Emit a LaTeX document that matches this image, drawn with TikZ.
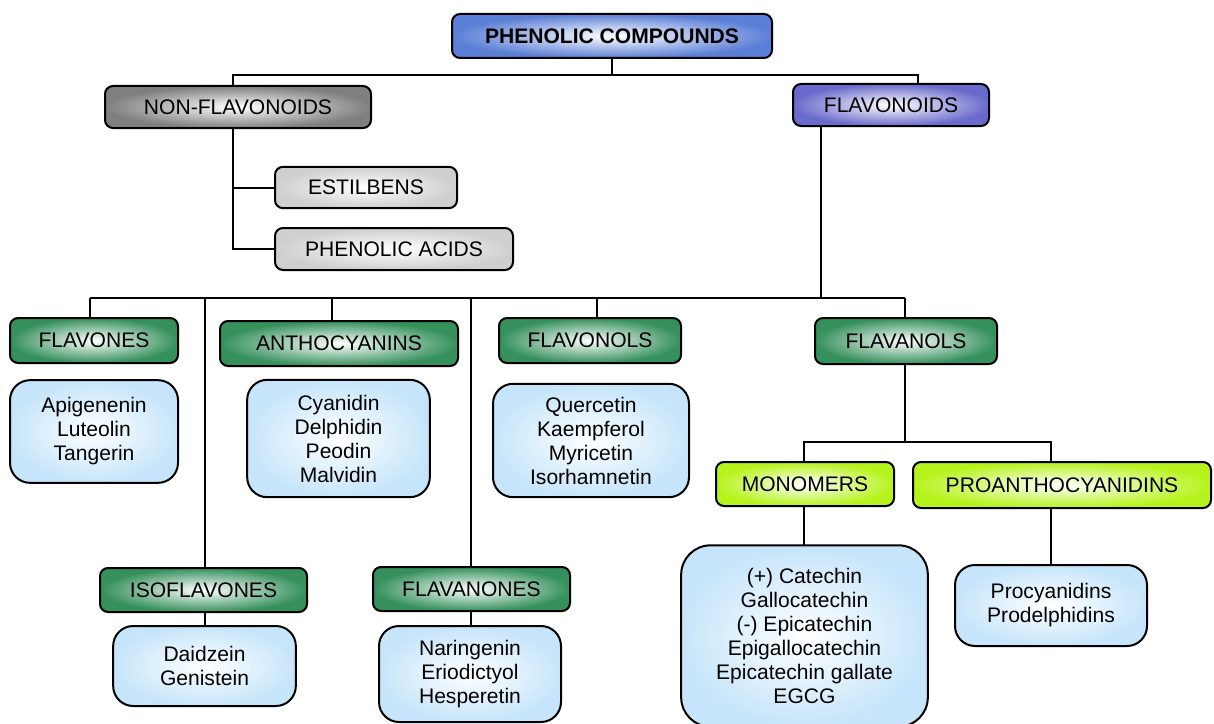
\documentclass[tikz,border=0pt]{standalone}
\usepackage{fontspec}
\setmainfont{Liberation Sans}
\definecolor{topblue}{HTML}{5B7FD6}
\definecolor{nfgray}{HTML}{7F7F7F}
\definecolor{lgray}{HTML}{CFCFCF}
\definecolor{flvblue}{HTML}{6A6ACC}
\definecolor{grn}{HTML}{35905C}
\definecolor{ygrn}{HTML}{B6F31C}
\definecolor{lblue}{HTML}{C6E5FA}
\begin{document}
\begin{tikzpicture}[x=0.75pt,y=-0.75pt,
  every node/.style={font=\fontsize{15.8}{18}\selectfont, text=black, inner sep=0pt, outer sep=0pt},
  hdr/.style={draw=black, line width=1.5pt, rounded corners=6pt, shade, inner color=white, outer color=#1, align=center},
  lst/.style={draw=black, line width=1.5pt, rounded corners=15pt, shade, inner color=white, outer color=lblue, align=center, execute at begin node={\rule{0pt}{19pt}}},
  link/.style={draw=black, line width=1.5pt}
]
\useasboundingbox (0,0) rectangle (1214,724);

% top level
\node[hdr=topblue, minimum width=240pt, minimum height=33pt, font=\fontsize{15.8}{18}\selectfont\bfseries] (top) at (612,36) {PHENOLIC COMPOUNDS};
\node[hdr=nfgray, minimum width=199.5pt, minimum height=31.5pt] (nonf) at (238,107) {NON-FLAVONOIDS};
\node[hdr=flvblue, minimum width=147pt, minimum height=31.5pt] (flav) at (891,105) {FLAVONOIDS};

% non-flavonoids
\node[hdr=lgray, minimum width=136.5pt, minimum height=31pt] (estil) at (366,187.5) {ESTILBENS};
\node[hdr=lgray, minimum width=178.5pt, minimum height=31.5pt] (pacid) at (394,249) {PHENOLIC ACIDS};

% flavonoid classes
\node[hdr=grn, minimum width=126pt, minimum height=33.75pt] (flavones) at (94,340.5) {FLAVONES};
\node[hdr=grn, minimum width=178.5pt, minimum height=33.75pt] (antho) at (339,343.5) {ANTHOCYANINS};
\node[hdr=grn, minimum width=136.5pt, minimum height=33.75pt] (flavonols) at (590,340.5) {FLAVONOLS};
\node[hdr=grn, minimum width=136.5pt, minimum height=34.5pt] (flavanols) at (906,341) {FLAVANOLS};
\node[hdr=grn, minimum width=155.25pt, minimum height=33pt] (iso) at (203.5,590) {ISOFLAVONES};
\node[hdr=grn, minimum width=147.75pt, minimum height=33pt] (flavan) at (471.5,589) {FLAVANONES};

% flavanol sub classes
\node[hdr=ygrn, minimum width=133.5pt, minimum height=33pt] (mono) at (805,484) {MONOMERS};
\node[hdr=ygrn, minimum width=223.5pt, minimum height=34.5pt] (proan) at (1062,485) {PROANTHOCYANIDINS};

% lists
\node[lst, minimum width=126pt, minimum height=77pt] (lflavones) at (94,431.5) {Apigenenin\\Luteolin\\Tangerin};
\node[lst, minimum width=137pt, minimum height=88pt] (lantho) at (338.5,438.5) {Cyanidin\\Delphidin\\Peodin\\Malvidin};
\node[lst, minimum width=147pt, minimum height=85pt] (lflavonols) at (591,440.5) {Quercetin\\Kaempferol\\Myricetin\\Isorhamnetin};
\node[lst, minimum width=137pt, minimum height=60pt] (liso) at (204.5,666) {Daidzein\\Genistein};
\node[lst, minimum width=136.5pt, minimum height=72pt] (lflavan) at (470,674) {Naringenin\\Eriodictyol\\Hesperetin};
\node[lst, minimum width=185pt, minimum height=136pt, rounded corners=22pt] (lmono) at (804.5,636) {(+) Catechin\\Gallocatechin\\(-) Epicatechin\\Epigallocatechin\\Epicatechin gallate\\EGCG};
\node[lst, minimum width=144pt, minimum height=60.75pt] (lproan) at (1051,605.5) {Procyanidins\\Prodelphidins};

% connectors: top
\coordinate (t1) at (233,75);
\coordinate (t2) at (918,75);
\draw[link] (top.south) -- (top.south |- t1);
\draw[link] (nonf.north -| t1) -- (t1) -- (t2) -- (flav.north -| t2);

% non-flavonoids branch
\coordinate (n1) at (233,249);
\draw[link] (nonf.south -| n1) -- (n1) -- (pacid.west);
\draw[link] (estil.west) -| (n1);

% flavonoids branch
\coordinate (f0) at (821,298);
\coordinate (fa) at (90,298);
\coordinate (fb) at (205,298);
\coordinate (fc) at (332,298);
\coordinate (fd) at (471,298);
\coordinate (fe) at (597,298);
\coordinate (ff) at (905,298);
\draw[link] (flav.south -| f0) -- (f0);
\draw[link] (fa) -- (ff);
\draw[link] (fa) -- (flavones.north -| fa);
\draw[link] (fb) -- (iso.north -| fb);
\draw[link] (fc) -- (antho.north -| fc);
\draw[link] (fd) -- (flavan.north -| fd);
\draw[link] (fe) -- (flavonols.north -| fe);
\draw[link] (ff) -- (flavanols.north -| ff);
\draw[link] (iso.south -| fb) -- (liso.north -| fb);
\draw[link] (flavan.south -| fd) -- (lflavan.north -| fd);

% flavanols branch
\coordinate (g0) at (905,442);
\coordinate (ga) at (804,442);
\coordinate (gb) at (1051,442);
\draw[link] (flavanols.south -| g0) -- (g0);
\draw[link] (mono.north -| ga) -- (ga) -- (gb) -- (proan.north -| gb);
\draw[link] (mono.south -| ga) -- (lmono.north -| ga);
\draw[link] (proan.south -| gb) -- (lproan.north -| gb);
\end{tikzpicture}
\end{document}
